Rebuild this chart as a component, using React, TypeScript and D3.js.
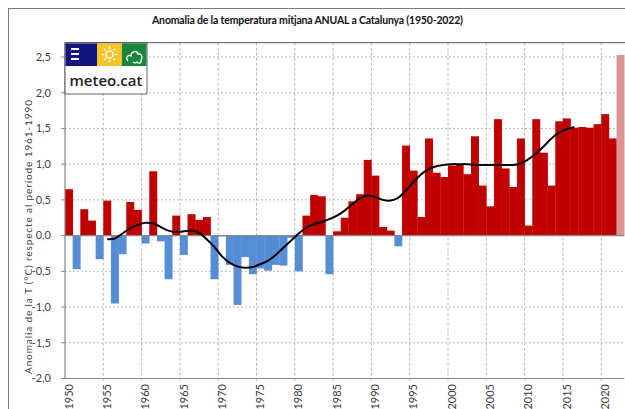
import React from 'react';
import * as d3 from 'd3';

// anomalia anual (°C) respecte 1961-1990, 1950..2022
const YEARS = d3.range(1950, 2023);
const ANOMALY = [
    0.65, -0.47, 0.37, 0.21, -0.33, 0.49, -0.95, -0.26, 0.47, 0.36,
    -0.11, 0.90, -0.08, -0.61, 0.28, -0.27, 0.30, 0.22, 0.26, -0.61,
    -0.01, -0.41, -0.97, -0.30, -0.54, -0.46, -0.49, -0.41, -0.42, -0.03,
    -0.50, 0.28, 0.57, 0.55, -0.54, 0.06, 0.25, 0.48, 0.58, 1.06,
    0.84, 0.12, 0.07, -0.15, 1.26, 0.91, 0.26, 1.36, 0.88, 0.82,
    0.98, 0.99, 0.86, 1.39, 0.70, 0.41, 1.63, 0.94, 0.68, 1.36,
    0.14, 1.63, 1.16, 0.70, 1.60, 1.64, 1.51, 1.52, 1.51, 1.56,
    1.70, 1.36, 2.53
];
const PROVISIONAL_YEAR = 2022;

// corba suavitzada, 1955..2016
const SMOOTH_YEARS = d3.range(1955, 2017);
const SMOOTH = [
    -0.05, -0.04, 0.03, 0.10, 0.15, 0.18, 0.17, 0.12, 0.07, 0.05,
    0.06, 0.07, 0.04, -0.05, -0.16, -0.29, -0.38, -0.43, -0.45, -0.44,
    -0.40, -0.35, -0.27, -0.17, -0.07, 0.03, 0.11, 0.16, 0.19, 0.23,
    0.28, 0.35, 0.44, 0.52, 0.56, 0.54, 0.50, 0.49, 0.53, 0.63,
    0.75, 0.86, 0.93, 0.97, 0.99, 1.00, 1.00, 1.00, 0.99, 0.99,
    0.99, 0.99, 0.99, 0.99, 1.01, 1.07, 1.15, 1.25, 1.36, 1.44,
    1.49, 1.52
];

const Y_TICKS = [-2, -1.5, -1, -0.5, 0, 0.5, 1, 1.5, 2, 2.5];
const X_LABELS = [1950, 1955, 1960, 1965, 1970, 1975, 1980, 1985, 1990, 1995, 2000, 2005, 2010, 2015, 2020];
const GRID_YEARS = X_LABELS.slice(1);

const TITLE = 'Anomalia de la temperatura mitjana ANUAL a Catalunya (1950-2022)';
const Y_TITLE = 'Anomalia de la T (°C) respecte al període 1961-1990';

const config = {
    width: 625,
    height: 409,
    left: 65,
    right: 624.2,
    top: 42.7,
    bottom: 378.5,
    font: 'Lato, "Liberation Sans", sans-serif',
    warm: '#c00000',
    cold: '#558ed5',
    provisional: '#da9694',
    grid: '#a8a8a8',
    axis: '#868686'
};

const fmt = (v: number) => v.toFixed(1).replace('.', ',');

function Logo({ x, y }: { x: number, y: number }) {
    const w = 82, h = 51, bandH = 22.5;
    return (
        <g transform={`translate(${x},${y})`}>
            <rect x={0} y={0} width={w} height={h} fill="#fff" stroke="#3a3a3a" strokeWidth={0.8} />
            <rect x={0.5} y={0.5} width={31.5} height={bandH} fill="#14157e" />
            <rect x={32} y={0.5} width={25} height={bandH} fill="#f6c42a" />
            <rect x={57} y={0.5} width={24.5} height={bandH} fill="#17883a" />
            {[6, 11, 16].map(yy => <rect key={yy} x={6} y={yy - 1} width={8} height={2} fill="#fff" />)}
            <g transform="translate(44.5,11.5)" stroke="#fff" strokeWidth={1.4} fill="none">
                <circle r={3.6} />
                {d3.range(8).map(i => {
                    const a = i * Math.PI / 4;
                    return <line key={i} x1={Math.cos(a) * 5.5} y1={Math.sin(a) * 5.5} x2={Math.cos(a) * 8} y2={Math.sin(a) * 8} />;
                })}
            </g>
            <path d="M63,18 C60,15 63,11 66,13 C66,8 72,7 73,11 C77,10 78,15 76,17 C77,20 74,21 72,19 C71,20 69,20 68,19"
                stroke="#fff" strokeWidth={1.3} fill="none" />
            <text x={w / 2} y={43} textAnchor="middle" fontFamily='"Open Sans", Lato, sans-serif' fontWeight={600}
                fontSize={15} fill="#222">meteo.cat</text>
        </g>
    );
}

export default function App() {
    const { width, height, left, right, top, bottom, font } = config;

    const x = d3.scaleBand<number>().domain(YEARS).range([left, right]).padding(0);
    const y = d3.scaleLinear().domain([-2, 2.5]).range([bottom, 57]);
    const cx = (yr: number) => (x(yr) as number) + x.bandwidth() / 2;

    const smoothLine = d3.line<number>()
        .x((_, i) => cx(SMOOTH_YEARS[i]))
        .y(d => y(d))
        .curve(d3.curveCatmullRom.alpha(0.5));

    return (
        <svg width={width} height={height} style={{ position: 'absolute', left: 0, top: 0 }}>
            <rect x={0} y={0} width={width} height={height} fill="#fff" />
            <rect x={8.5} y={8.5} width={width} height={height} fill="none" stroke="#7a7a7a" strokeWidth={1} />

            <text x={307.5} y={24} textAnchor="middle" fontFamily={font} fontWeight="bold" fontSize={10.5} fill="#111"
                textLength={311} lengthAdjust="spacing">{TITLE}</text>

            {/* gridlines */}
            {Y_TICKS.filter(t => t !== 0 && t !== -2).map(t =>
                <line key={t} x1={left} x2={right} y1={y(t)} y2={y(t)} stroke={config.grid} strokeWidth={0.8} strokeDasharray="2,2" />
            )}
            {GRID_YEARS.map(yr =>
                <line key={yr} x1={x(yr)} x2={x(yr)} y1={top} y2={bottom + 4} stroke={config.grid} strokeWidth={0.8} strokeDasharray="3,2" />
            )}
            <line x1={left} x2={width} y1={top} y2={top} stroke="#555" strokeWidth={1} />

            {/* bars */}
            {YEARS.map((yr, i) => {
                const v = ANOMALY[i];
                const fill = yr === PROVISIONAL_YEAR ? config.provisional : v >= 0 ? config.warm : config.cold;
                return <rect key={yr} x={x(yr)} width={x.bandwidth() + 0.3}
                    y={Math.min(y(v), y(0))} height={Math.abs(y(v) - y(0))} fill={fill} />;
            })}

            <line x1={left} x2={right} y1={y(0)} y2={y(0)} stroke={config.axis} strokeWidth={1.2} />
            <path d={smoothLine(SMOOTH) || ''} fill="none" stroke="#000" strokeWidth={2} />

            {/* axes */}
            <line x1={left} x2={left} y1={top} y2={bottom} stroke={config.axis} strokeWidth={1.2} />
            <line x1={left} x2={right} y1={bottom} y2={bottom} stroke={config.axis} strokeWidth={1.2} />
            {Y_TICKS.map(t =>
                <g key={t}>
                    <line x1={left - 4} x2={left} y1={y(t)} y2={y(t)} stroke={config.axis} />
                    <text x={51} y={y(t)} dy="0.35em" textAnchor="end" fontFamily={font} fontSize={11} fill="#404040">{fmt(t)}</text>
                </g>
            )}
            {X_LABELS.map(yr =>
                <text key={yr} transform={`translate(${cx(yr)},384) rotate(-90)`} dy="0.35em" textAnchor="end"
                    fontFamily={font} fontSize={11} fill="#404040">{yr}</text>
            )}
            <text transform="translate(28,237) rotate(-90)" dy="0.35em" textAnchor="middle" fontFamily={font} fontSize={10} fill="#404040"
                textLength={274} lengthAdjust="spacing">
                {Y_TITLE}
            </text>

            <Logo x={left} y={43} />
        </svg>
    );
}
